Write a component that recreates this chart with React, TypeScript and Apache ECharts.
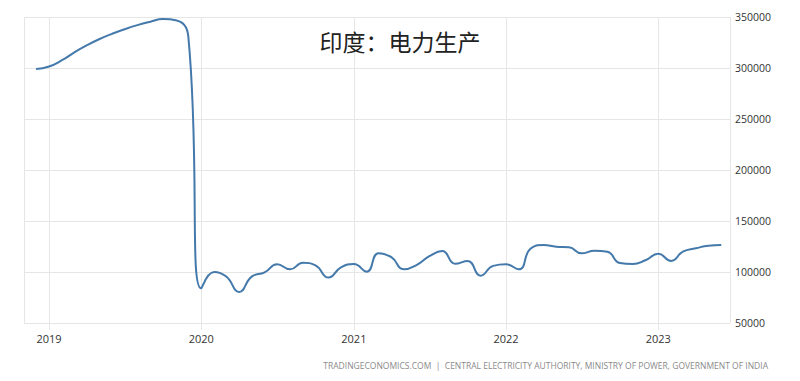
import React, { useEffect, useRef } from "react";
import * as echarts from "echarts";

const dates: string[] = [
  "2018-12-01",
  "2019-01-01", "2019-02-01", "2019-03-01", "2019-04-01", "2019-05-01", "2019-06-01",
  "2019-07-01", "2019-08-01", "2019-09-01", "2019-10-01", "2019-11-01", "2019-12-01",
  "2020-01-01", "2020-02-01", "2020-03-01", "2020-04-01", "2020-05-01", "2020-06-01",
  "2020-07-01", "2020-08-01", "2020-09-01", "2020-10-01", "2020-11-01", "2020-12-01",
  "2021-01-01", "2021-02-01", "2021-03-01", "2021-04-01", "2021-05-01", "2021-06-01",
  "2021-07-01", "2021-08-01", "2021-09-01", "2021-10-01", "2021-11-01", "2021-12-01",
  "2022-01-01", "2022-02-01", "2022-03-01", "2022-04-01", "2022-05-01", "2022-06-01",
  "2022-07-01", "2022-08-01", "2022-09-01", "2022-10-01", "2022-11-01", "2022-12-01",
  "2023-01-01", "2023-02-01", "2023-03-01", "2023-04-01", "2023-05-01", "2023-06-01",
];

const production: number[] = [
  299000,
  301500, 307600, 314900, 322100, 328200, 333500,
  338000, 342000, 345300, 348000, 346800, 331000,
  84000, 100000, 95500, 80400, 95500, 99700,
  107500, 102600, 109000, 106500, 94500, 104500,
  107800, 100300, 118500, 114500, 102600, 107000,
  115500, 120500, 108000, 110800, 96400, 106000,
  107500, 102600, 123000, 126400, 124800, 124200,
  118300, 120800, 119800, 108800, 107800, 111500,
  117800, 110800, 119900, 123200, 125800, 126400,
];

const yTicks: number[] = [50000, 100000, 150000, 200000, 250000, 300000, 350000];

const titleText = "印度：电力生产";
const footerText =
  "TRADINGECONOMICS.COM  |  CENTRAL ELECTRICITY AUTHORITY, MINISTRY OF POWER, GOVERNMENT OF INDIA";

export default function App() {
  const ref = useRef<HTMLDivElement>(null);

  useEffect(() => {
    if (!ref.current) return;
    const chart = echarts.init(ref.current, undefined, { renderer: "svg" });
    const seriesData = dates.map((d, i) => [d, production[i]]);
    const yearMs = 365 * 24 * 3600 * 1000;
    chart.setOption({
      animation: false,
      backgroundColor: "#ffffff",
      grid: { left: 24, right: 70, top: 17, bottom: 58, containLabel: false },
      title: {
        text: titleText,
        left: "center",
        top: 24,
        textStyle: {
          fontFamily: "Noto Sans CJK SC",
          fontSize: 23,
          fontWeight: "normal",
          color: "#222222",
        },
      },
      xAxis: {
        type: "time",
        min: "2018-11-02",
        max: "2023-06-22",
        minInterval: yearMs,
        maxInterval: yearMs * 1.01,
        axisLine: { show: false },
        axisTick: { show: true, length: 7, lineStyle: { color: "#e6e6e6" } },
        splitLine: { show: true, lineStyle: { color: "#e6e6e6", width: 1 } },
        axisLabel: {
          margin: 10,
          color: "#333333",
          fontFamily: "Open Sans",
          fontSize: 11,
          formatter: (v: number) => String(new Date(v).getFullYear()),
        },
      },
      yAxis: {
        type: "value",
        position: "right",
        min: yTicks[0],
        max: yTicks[yTicks.length - 1],
        interval: 50000,
        axisLine: { show: false },
        axisTick: { show: false },
        splitLine: { show: true, lineStyle: { color: "#e6e6e6", width: 1 } },
        axisLabel: {
          margin: 5,
          color: "#333333",
          fontFamily: "Open Sans",
          fontSize: 10.5,
          formatter: (v: number) => String(v),
        },
      },
      graphic: [
        {
          type: "text",
          right: 32,
          top: 361,
          style: {
            text: footerText,
            fill: "#8a8a8a",
            font: "8.5px 'Open Sans'",
          },
        },
      ],
      series: [
        {
          type: "line",
          data: seriesData,
          smooth: 0.5,
          showSymbol: false,
          lineStyle: { color: "#4479ab", width: 2 },
        },
      ],
    });
    return () => chart.dispose();
  }, []);

  return (
    <div
      ref={ref}
      style={{ position: "fixed", left: 0, top: 0, width: 800, height: 381 }}
    />
  );
}
